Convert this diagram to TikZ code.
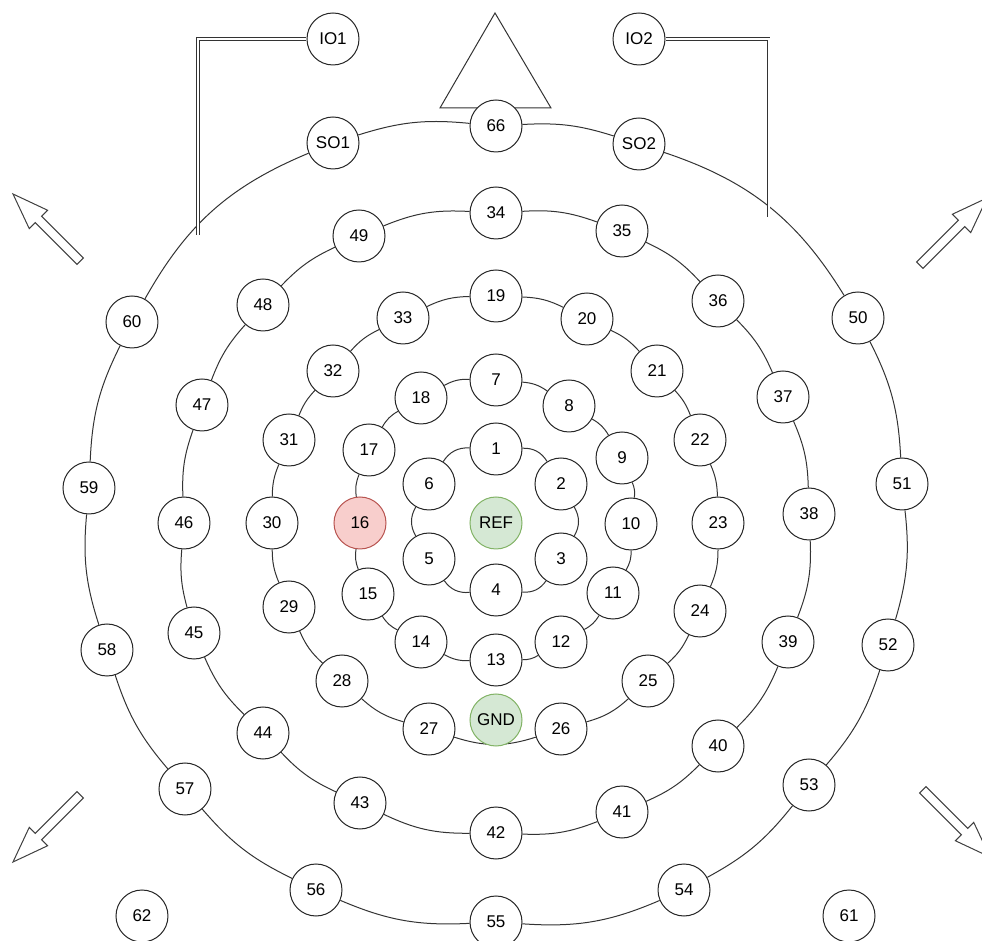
\documentclass[tikz,border=0pt]{standalone}
\usepackage{fontspec}
\setmainfont{Liberation Sans}
\usepackage{tikz}
\definecolor{refgreen}{HTML}{D5E8D4}
\definecolor{refgreenline}{HTML}{82B366}
\definecolor{badred}{HTML}{F8CECC}
\definecolor{badredline}{HTML}{B85450}
\def\electrodesize{52pt}

\begin{document}
\begin{tikzpicture}[x=1pt, y=1pt, line width=1pt,
    electrode/.style={circle, draw=black!85, fill=white, minimum size=\electrodesize,
      inner sep=0pt, font=\fontsize{17}{19}\selectfont},
    ground/.style={electrode, draw=refgreenline, fill=refgreen},
    bad/.style={electrode, draw=badredline, fill=badred},
    ring/.style={draw=black!80},
    cable/.style={draw=black!80, double, double distance=1.6pt, line width=0.9pt},
    padarrow/.style={draw=black!75, fill=white, line join=miter}]
	\useasboundingbox (-496,-418) rectangle (486,523);

	% nose
	\draw[ring] (-56,415) -- (-1,510) -- (55,415) -- cycle;

	% electrodes, inner two rings
	\foreach \n/\x/\y in {1/0/74, 2/65/39, 3/65/-36, 4/0/-67, 5/-67/-36, 6/-67/39,
	    7/0/143, 8/73/117, 9/126/65, 10/135/-1, 11/117/-70, 12/65/-119,
	    13/0/-137, 14/-75/-119, 15/-128/-71, 17/-127/73, 18/-75/125}
		\node[electrode] (e\n) at (\x,\y) {\n};
	\node[bad] (e16) at (-136,0) {16};
	% third and fourth ring
	\foreach \n/\x/\y in {19/0/227, 20/91/204, 21/161/152, 22/204/83, 23/222/0,
	    24/204/-88, 25/152/-158, 26/65/-206, 27/-67/-206, 28/-154/-158,
	    29/-207/-84, 30/-224/0, 31/-207/83, 32/-163/152, 33/-93/205,
	    34/0/310, 35/126/292, 36/222/222, 37/287/126, 38/313/9, 39/292/-119,
	    40/222/-223, 41/126/-289, 42/0/-310, 43/-136/-280, 44/-233/-210,
	    45/-302/-110, 46/-312/0, 47/-294/118, 48/-233/218, 49/-137/287}
		\node[electrode] (e\n) at (\x,\y) {\n};
	% outer ring
	\foreach \n/\x/\y in {66/0/397, 50/362/205, 51/406/39, 52/392/-122,
	    53/313/-262, 54/188/-367, 55/0/-399, 56/-180/-367, 57/-311/-266,
	    58/-389/-127, 59/-407/35, 60/-364/201, 61/353/-393, 62/-354/-393}
		\node[electrode] (e\n) at (\x,\y) {\n};
	\node[electrode] (so1) at (-163,380) {SO1};
	\node[electrode] (so2) at (143,379) {SO2};
	\node[electrode] (io1) at (-163,484) {IO1};
	\node[electrode] (io2) at (143,484) {IO2};

	% rings
	\foreach \a/\b in {1/2, 2/3, 3/4, 4/5, 5/6, 6/1}
		\draw[ring] (e\a) to[bend left=30] (e\b);
	\foreach \a/\b in {7/8, 8/9, 9/10, 10/11, 11/12, 12/13, 13/14, 14/15,
	    15/16, 16/17, 17/18, 18/7}
		\draw[ring] (e\a) to[bend left=15] (e\b);
	\foreach \a/\b/\k in {19/20/12, 20/21/11.3, 21/22/10.7, 22/23/11, 23/24/11.6,
	    24/25/11.4, 25/26/13.2, 26/27/17.9, 27/28/13.1, 28/29/11.8, 29/30/11,
	    30/31/11, 31/32/10.5, 32/33/11.3, 33/19/12.2}
		\draw[ring] (e\a) to[bend left=\k] (e\b);
	\foreach \a/\b/\k in {34/35/11.7, 35/36/10.9, 36/37/10.7, 37/38/11, 38/39/11.9,
	    39/40/11.5, 40/41/10.7, 41/42/11.8, 42/43/13, 43/44/11, 44/45/11,
	    45/46/10, 46/47/11, 47/48/10.6, 48/49/10.7, 49/34/12.8}
		\draw[ring] (e\a) to[bend left=\k] (e\b);
	\foreach \a/\b/\k in {e66/so2/10.4, so2/e50/19.9, e50/e51/12, e51/e52/11.4,
	    e52/e53/11.3, e53/e54/11.5, e54/e55/13.6, e55/e56/13, e56/e57/11.7,
	    e57/e58/11.2, e58/e59/11.5, e59/e60/12, e60/so1/19, so1/e66/11.6}
		\draw[ring] (\a) to[bend left=\k] (\b);

	\node[ground] (ref) at (0,0) {REF};
	\node[ground] (gnd) at (0,-197) {GND};

	% cables to the outer ring
	\coordinate (lend) at (136:414);
	\coordinate (rend) at (48.3:410);
	\draw[cable] (io1) -| (lend);
	\draw[cable] (io2) -| (rend);

	% direction arrows
	\foreach \tx/\ty/\ang in {-483/329/135, 491/325/45, -483/-339/-135, 494/-334/-45}
		\draw[padarrow, shift={(\tx,\ty)}, rotate=\ang]
			(0,0) -- (-36,13) -- (-36,4.5) -- (-95,4.5) -- (-95,-4.5)
			-- (-36,-4.5) -- (-36,-13) -- cycle;
\end{tikzpicture}
\end{document}
